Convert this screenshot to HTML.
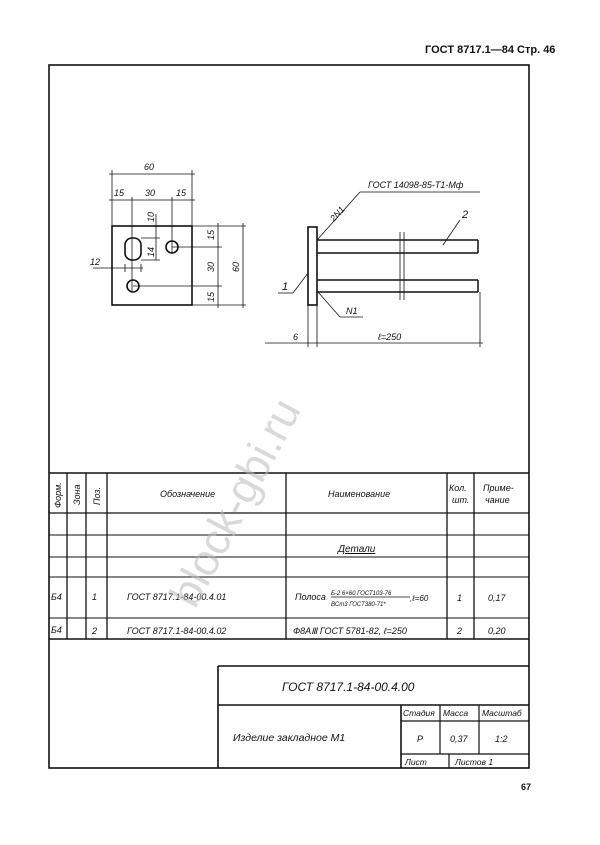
<!DOCTYPE html>
<html><head><meta charset="utf-8"><style>
html,body{margin:0;padding:0;background:#fff;}
svg{display:block;}
text{font-family:"Liberation Sans",sans-serif;font-style:italic;fill:#111;}
</style></head><body>
<svg width="600" height="845" viewBox="0 0 600 845" xmlns="http://www.w3.org/2000/svg">
<rect width="600" height="845" fill="#fff"/>
<text x="425" y="53" font-size="11" font-weight="bold" style="font-style:normal">ГОСТ 8717.1—84  Стр. 46</text>
<g stroke="#111" fill="none">
<rect x="49" y="65" width="480" height="703" stroke-width="1.6"/>
<line x1="49" y1="473" x2="529" y2="473" stroke-width="1.6"/>
<line x1="49" y1="513" x2="529" y2="513" stroke-width="1.2"/>
<line x1="49" y1="535" x2="529" y2="535" stroke-width="1"/>
<line x1="49" y1="557" x2="529" y2="557" stroke-width="1"/>
<line x1="49" y1="577" x2="529" y2="577" stroke-width="1"/>
<line x1="49" y1="618" x2="529" y2="618" stroke-width="1"/>
<line x1="49" y1="639" x2="529" y2="639" stroke-width="1.6"/>
<g stroke-width="1.3">
<line x1="67" y1="473" x2="67" y2="639"/>
<line x1="86" y1="473" x2="86" y2="639"/>
<line x1="107" y1="473" x2="107" y2="639"/>
<line x1="286" y1="473" x2="286" y2="639"/>
<line x1="447" y1="473" x2="447" y2="639"/>
<line x1="474" y1="473" x2="474" y2="639"/>
</g>
<g stroke-width="1.6">
<line x1="218" y1="666" x2="529" y2="666"/>
<line x1="218" y1="666" x2="218" y2="768"/>
<line x1="218" y1="705" x2="529" y2="705"/>
<line x1="401" y1="705" x2="401" y2="768"/>
</g>
<g stroke-width="1.2">
<line x1="401" y1="721" x2="529" y2="721"/>
<line x1="401" y1="754" x2="529" y2="754"/>
<line x1="440" y1="705" x2="440" y2="754"/>
<line x1="479" y1="705" x2="479" y2="754"/>
<line x1="449" y1="754" x2="449" y2="768"/>
</g>
<rect x="112" y="226" width="80" height="79" stroke-width="1.6"/>
<circle cx="172" cy="247" r="6" stroke-width="1.6"/>
<circle cx="133" cy="286" r="6" stroke-width="1.6"/>
<rect x="125" y="238" width="16" height="22" rx="7" stroke-width="1.6"/>
<g stroke-width="0.8">
<line x1="112" y1="170" x2="112" y2="226"/>
<line x1="192" y1="170" x2="192" y2="226"/>
<line x1="109" y1="174" x2="195" y2="174"/>
<line x1="109" y1="200" x2="195" y2="200"/>
<line x1="132" y1="197" x2="132" y2="292"/>
<line x1="172" y1="197" x2="172" y2="253"/>
<line x1="192" y1="226" x2="246" y2="226"/>
<line x1="172" y1="247" x2="222" y2="247"/>
<line x1="133" y1="286" x2="222" y2="286"/>
<line x1="192" y1="305" x2="246" y2="305"/>
<line x1="218" y1="223" x2="218" y2="308"/>
<line x1="243" y1="223" x2="243" y2="308"/>
<line x1="156" y1="214" x2="156" y2="260"/>
<line x1="141" y1="238" x2="160" y2="238"/>
<line x1="141" y1="260" x2="160" y2="260"/>
<line x1="93" y1="268" x2="143" y2="268"/>
<line x1="125" y1="264" x2="125" y2="272"/>
<line x1="141" y1="264" x2="141" y2="272"/>
</g>
<rect x="308" y="227" width="9" height="78" stroke-width="1.6"/>
<g stroke-width="1.5">
<line x1="317" y1="240" x2="478" y2="240"/>
<line x1="317" y1="253" x2="478" y2="253"/>
<line x1="478" y1="240" x2="478" y2="253"/>
<line x1="317" y1="280" x2="478" y2="280"/>
<line x1="317" y1="292" x2="478" y2="292"/>
<line x1="478" y1="280" x2="478" y2="292"/>
</g>
<g stroke-width="0.8">
<line x1="400" y1="232" x2="400" y2="300"/>
<line x1="404" y1="232" x2="404" y2="300"/>
<line x1="317" y1="240" x2="360" y2="192"/>
<line x1="360" y1="192" x2="480" y2="192"/>
<line x1="443" y1="245" x2="460" y2="220"/>
<line x1="278" y1="293" x2="293" y2="293"/>
<line x1="293" y1="293" x2="308" y2="273"/>
<line x1="318" y1="292" x2="340" y2="317"/>
<line x1="340" y1="317" x2="363" y2="317"/>
<line x1="308" y1="305" x2="308" y2="347"/>
<line x1="317" y1="305" x2="317" y2="347"/>
<line x1="480" y1="292" x2="480" y2="347"/>
<line x1="265" y1="343" x2="483" y2="343"/>
</g>
</g>
<g font-size="9">
<text x="144" y="170">60</text>
<text x="114" y="196">15</text>
<text x="145" y="196">30</text>
<text x="176" y="196">15</text>
<text x="90" y="265">12</text>
<text transform="translate(214,240) rotate(-90)">15</text>
<text transform="translate(214,272) rotate(-90)">30</text>
<text transform="translate(214,302) rotate(-90)">15</text>
<text transform="translate(239,272) rotate(-90)">60</text>
<text transform="translate(154,222) rotate(-90)">10</text>
<text transform="translate(154,257) rotate(-90)">14</text>
<text x="368" y="188">ГОСТ 14098-85-Т1-Мф</text>
<text transform="translate(334,222) rotate(-48)">2N1</text>
<text x="462" y="218" font-size="11">2</text>
<text x="282" y="290" font-size="11">1</text>
<text x="346" y="314">N1</text>
<text x="293" y="340">6</text>
<text x="378" y="340">ℓ=250</text>
</g>
<g font-size="9">
<text transform="translate(61,508) rotate(-90)">Форм.</text>
<text transform="translate(80,505) rotate(-90)">Зона</text>
<text transform="translate(100,505) rotate(-90)">Поз.</text>
<text x="160" y="497">Обозначение</text>
<text x="328" y="497">Наименование</text>
<text x="449" y="491">Кол.</text>
<text x="452" y="503">шт.</text>
<text x="483" y="491">Приме-</text>
<text x="485" y="503">чание</text>
<text x="338" y="552" text-decoration="underline" font-size="10">Детали</text>
<text x="51" y="600">Б4</text>
<text x="92" y="600">1</text>
<text x="127" y="600">ГОСТ 8717.1-84-00.4.01</text>
<text x="295" y="600">Полоса</text>
<text x="331" y="595" font-size="6">Б-2 6×60 ГОСТ103-76</text>
<line x1="331" y1="597" x2="410" y2="597" stroke="#111" stroke-width="0.7"/>
<text x="331" y="606" font-size="6">ВСт3   ГОСТ380-71*</text>
<text x="410" y="601" font-size="8">,ℓ=60</text>
<text x="457" y="601">1</text>
<text x="488" y="601">0,17</text>
<text x="51" y="633">Б4</text>
<text x="92" y="634">2</text>
<text x="127" y="634">ГОСТ 8717.1-84-00.4.02</text>
<text x="293" y="634">Ф8АⅢ ГОСТ 5781-82, ℓ=250</text>
<text x="457" y="634">2</text>
<text x="488" y="634">0,20</text>
<text x="282" y="691" font-size="12">ГОСТ 8717.1-84-00.4.00</text>
<text x="233" y="741" font-size="10.5">Изделие закладное М1</text>
<text x="403" y="716" font-size="8.5">Стадия</text>
<text x="443" y="716" font-size="8.5">Масса</text>
<text x="482" y="716" font-size="8.5">Масштаб</text>
<text x="417" y="742">Р</text>
<text x="450" y="742">0,37</text>
<text x="495" y="742">1:2</text>
<text x="405" y="765" font-size="8.5">Лист</text>
<text x="455" y="765" font-size="8.5">Листов 1</text>
</g>
<text x="521" y="790" font-size="9" font-weight="bold" style="font-style:normal">67</text>
<text transform="translate(195,610) rotate(-62)" font-size="44" style="fill:#bbb;opacity:0.55;font-style:normal">block-gbi.ru</text>
</svg>
</body></html>
